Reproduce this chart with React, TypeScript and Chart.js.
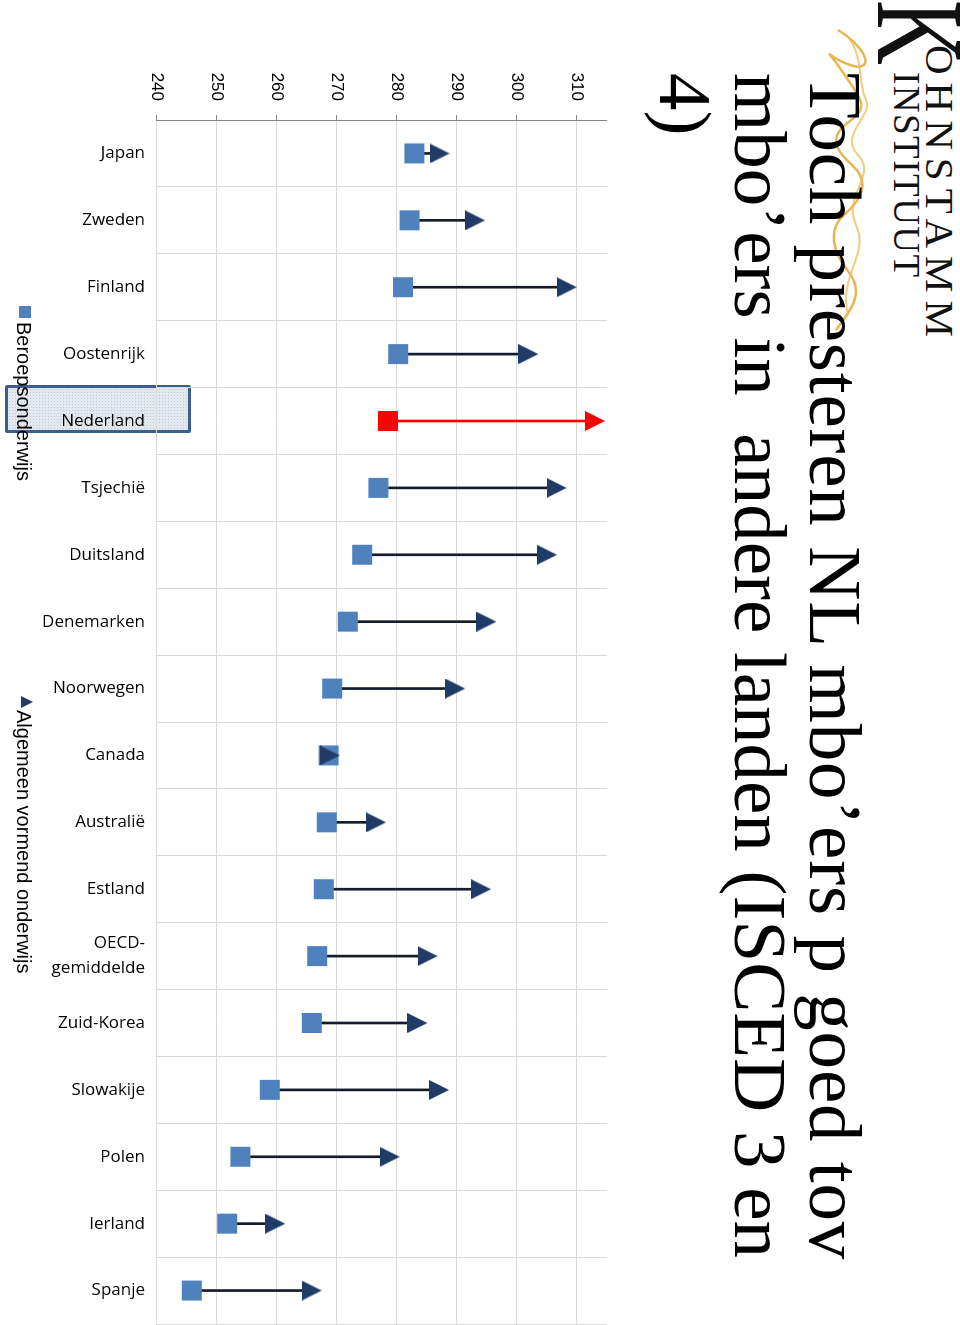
import React, { useEffect, useRef } from 'react';
import { Chart, registerables } from 'chart.js';

Chart.register(...registerables);

// ---------- data ----------
const categories: (string | string[])[] = [
  'Japan', 'Zweden', 'Finland', 'Oostenrijk', 'Nederland', 'Tsjechië', 'Duitsland',
  'Denemarken', 'Noorwegen', 'Canada', 'Australië', 'Estland', ['OECD-', 'gemiddelde'],
  'Zuid-Korea', 'Slowakije', 'Polen', 'Ierland', 'Spanje',
];
const beroepsonderwijs = [
  282.9, 282.1, 281.0, 280.2, 278.5, 276.9, 274.2, 271.8, 269.2, 268.6, 268.3, 267.8,
  266.7, 265.8, 258.8, 253.9, 251.7, 245.8,
];
const algemeenVormendOnderwijs = [
  287.1, 293.0, 308.3, 301.9, 313.0, 306.6, 305.0, 294.9, 289.7, 268.8, 276.5, 294.0,
  285.1, 283.4, 287.0, 278.8, 259.7, 265.8,
];
const highlightCategory = 'Nederland';
const valueMin = 240;
const valueMax = 315;
const valueStep = 10;
const legendLabels = ['Beroepsonderwijs', 'Algemeen vormend onderwijs'];
const titleLines = [
  'Toch presteren NL mbo\u2019ers p goed tov',
  'mbo\u2019ers in  andere landen (ISCED 3 en',
  '4)',
];

// ---------- styles ----------
const BLUE = '#4f81bd';
const NAVY = '#1f3b66';
const RED = '#ff0000';
const LINE = '#121c2a';
const GRID = '#d9d9d9';
const AXIS = '#868686';

function triangleImage(color: string, size = 20) {
  const c = document.createElement('canvas');
  c.width = size;
  c.height = size;
  const g = c.getContext('2d')!;
  g.fillStyle = color;
  g.beginPath();
  g.moveTo(size / 2, 0);
  g.lineTo(size, size);
  g.lineTo(0, size);
  g.closePath();
  g.fill();
  return c;
}

export default function App() {
  const ref = useRef<HTMLCanvasElement>(null);

  useEffect(() => {
    const canvas = ref.current;
    if (!canvas) return;
    const isHi = categories.map(
      (c) => (Array.isArray(c) ? c.join('') : c) === highlightCategory,
    );
    const triNavy = triangleImage(NAVY);
    const triRed = triangleImage(RED);

    const labelPlugin = {
      id: 'categoryLabels',
      afterDraw(chart: any) {
        const xs = chart.scales.x;
        const ctx = chart.ctx;
        const area = chart.chartArea;
        ctx.save();
        ctx.font = '17px "Open Sans"';
        ctx.fillStyle = '#000';
        ctx.textAlign = 'right';
        ctx.textBaseline = 'middle';
        xs.ticks.forEach((_t: any, i: number) => {
          const raw = categories[i];
          const lines = Array.isArray(raw) ? raw : [raw];
          const px = xs.getPixelForTick(i);
          lines.forEach((line, j) => {
            const cx = px + (j - (lines.length - 1) / 2) * 25;
            ctx.save();
            ctx.translate(cx, area.bottom + 12);
            ctx.rotate(-Math.PI / 2);
            ctx.fillText(line, 0, 0);
            ctx.restore();
          });
        });
        ctx.restore();
      },
    };

    const chart = new Chart(canvas, {
      type: 'bar',
      data: {
        labels: categories as any,
        datasets: [
          {
            type: 'line',
            label: legendLabels[1],
            data: algemeenVormendOnderwijs,
            showLine: false,
            pointStyle: isHi.map((h) => (h ? triRed : triNavy)) as any,
            pointRadius: 10,
            pointBorderWidth: 0,
            order: 0,
            clip: false as any,
          },
          {
            type: 'line',
            label: legendLabels[0],
            data: beroepsonderwijs,
            showLine: false,
            pointStyle: 'rect',
            pointRadius: 14.142,
            pointBorderWidth: 0,
            pointBackgroundColor: isHi.map((h) => (h ? RED : BLUE)),
            order: 1,
            clip: false as any,
          },
          {
            type: 'bar',
            label: 'verschil',
            data: beroepsonderwijs.map((b, i) => [b, algemeenVormendOnderwijs[i]]) as any,
            backgroundColor: isHi.map((h) => (h ? RED : LINE)),
            borderWidth: 0,
            barThickness: 2,
            order: 2,
          },
        ],
      },
      options: {
        responsive: false,
        maintainAspectRatio: false,
        animation: false,
        events: [],
        layout: { autoPadding: false, padding: { left: 73, top: 353, right: 1, bottom: 0 } },
        plugins: { legend: { display: false }, tooltip: { enabled: false } },
        scales: {
          x: {
            offset: true,
            grid: { color: GRID, offset: true, drawTicks: false },
            border: { color: GRID, width: 1 },
            ticks: { display: false },
            afterFit: (s: any) => {
              s.height = 157;
            },
          },
          y: {
            min: valueMin,
            max: valueMax,
            ticks: {
              stepSize: valueStep,
              includeBounds: false,
              padding: 14,
              color: '#000',
              font: { family: '"Liberation Sans", Arial, sans-serif', size: 17 },
            },
            grid: { color: GRID, tickLength: 5, tickColor: AXIS, drawTicks: true },
            border: { color: AXIS, width: 1 },
            afterFit: (s: any) => {
              s.width = 47;
            },
          },
        },
      } as any,
      plugins: [labelPlugin],
    });
    return () => chart.destroy();
  }, []);

  const serif = '"Liberation Serif", "Times New Roman", serif';
  const sans = '"Liberation Sans", Arial, sans-serif';

  return (
    <div
      style={{
        position: 'fixed',
        left: 0,
        top: 0,
        width: 960,
        height: 1325,
        overflow: 'hidden',
        background: '#fff',
      }}
    >
      <div
        style={{
          position: 'absolute',
          left: 0,
          top: 0,
          width: 1325,
          height: 960,
          transformOrigin: '0 0',
          transform: 'translate(960px, 0px) rotate(90deg)',
          background: '#fff',
        }}
      >
        {/* logo */}
        <div
          style={{
            position: 'absolute',
            left: 0,
            top: -22,
            font: `125px/125px ${serif}`,
            color: '#111',
            transform: 'scaleX(0.72)',
            transformOrigin: '0 0',
          }}
        >
          K
        </div>
        <div
          style={{
            position: 'absolute',
            left: 45,
            top: 0,
            font: `41px/41px ${serif}`,
            letterSpacing: 8,
            color: '#111',
            whiteSpace: 'pre',
          }}
        >
          OHNSTAMM
        </div>
        <div
          style={{
            position: 'absolute',
            left: 72,
            top: 35,
            font: `37px/37px ${serif}`,
            letterSpacing: 1.5,
            color: '#111',
            whiteSpace: 'pre',
          }}
        >
          INSTITUUT
        </div>
        <svg
          style={{ position: 'absolute', left: 25, top: 82, overflow: 'visible' }}
          width={320}
          height={60}
        >
          <path
            d="M5,40 C25,8 48,4 40,28 S18,55 46,36 S82,8 96,28 S122,46 140,26 S176,18 190,34 S226,46 246,30 S282,24 305,42"
            fill="none"
            stroke="#e2a935"
            strokeWidth={2.5}
            opacity={0.85}
          />
          <path
            d="M12,30 C32,14 60,20 75,12 S110,40 130,20 S170,36 200,22 S250,40 290,30"
            fill="none"
            stroke="#e9bb55"
            strokeWidth={2}
            opacity={0.75}
          />
        </svg>

        {/* title */}
        <div
          style={{
            position: 'absolute',
            left: 73,
            top: 87,
            font: `75px/75px ${serif}`,
            color: '#000',
            whiteSpace: 'pre',
          }}
        >
          {titleLines.map((l, i) => (
            <div key={i} style={{ letterSpacing: i === 0 ? 0.8 : 0 }}>
              {l}
            </div>
          ))}
        </div>

        {/* highlight box around Nederland */}
        <div
          style={{
            position: 'absolute',
            left: 385,
            top: 769,
            width: 48,
            height: 186,
            boxSizing: 'border-box',
            border: '3px solid #3a5f8f',
            borderRadius: 2,
            backgroundColor: '#e3e8ee',
            backgroundImage:
              'radial-gradient(circle, rgba(150,160,175,0.45) 0.6px, transparent 0.9px)',
            backgroundSize: '3px 3px',
          }}
        />

        <canvas
          ref={ref}
          width={1325}
          height={960}
          style={{ position: 'absolute', left: 0, top: 0, width: 1325, height: 960 }}
        />

        {/* legend */}
        <div
          style={{
            position: 'absolute',
            left: 306,
            top: 929,
            width: 12,
            height: 12,
            background: BLUE,
          }}
        />
        <div
          style={{
            position: 'absolute',
            left: 322,
            top: 926,
            font: `20px/20px ${sans}`,
            color: '#000',
            whiteSpace: 'pre',
          }}
        >
          {legendLabels[0]}
        </div>
        <svg
          style={{ position: 'absolute', left: 696, top: 927 }}
          width={12}
          height={12}
        >
          <polygon points="6,0 12,12 0,12" fill={NAVY} />
        </svg>
        <div
          style={{
            position: 'absolute',
            left: 710,
            top: 926,
            font: `20px/20px ${sans}`,
            color: '#000',
            whiteSpace: 'pre',
          }}
        >
          {legendLabels[1]}
        </div>
      </div>
    </div>
  );
}
